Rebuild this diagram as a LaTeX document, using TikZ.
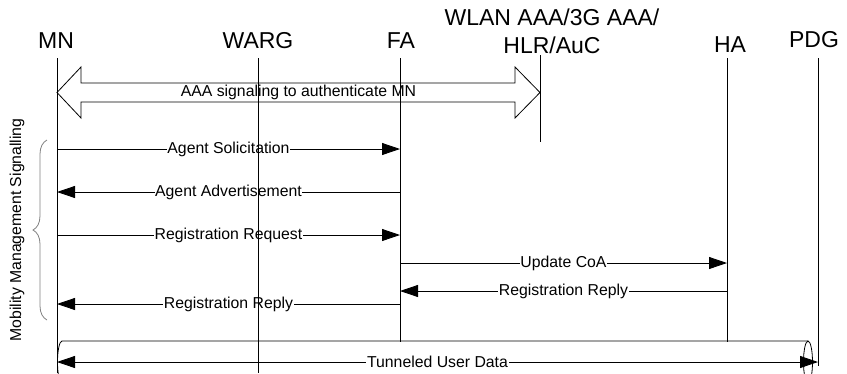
\documentclass[tikz,border=0pt]{standalone}
\usepackage{fontspec}
\setmainfont{Liberation Sans}
\usetikzlibrary{arrows.meta,calc,decorations.pathreplacing}
\begin{document}
\begin{tikzpicture}[x=1pt,y=-1pt,
    head/.style={font=\fontsize{23}{28}\selectfont, inner sep=0pt, anchor=base},
    life/.style={line width=0.8pt},
    msg/.style={line width=0.8pt, -{Triangle[length=18pt,width=12pt]}},
    lbl/.style={font=\fontsize{15.8}{19}\selectfont, fill=white, inner sep=0.6pt}]
    \useasboundingbox (0,0) rectangle (847,373);

    % entities
    \node (mn) at (56,48) [head] {MN};
    \node (warg) at (258,48) [head] {WARG};
    \node (fa) at (401,48) [head] {FA};
    \node (aaa) at (552,53) [head, align=center] {WLAN AAA/3G AAA/\\HLR/AuC};
    \node (ha) at (730,52) [head] {HA};
    \node (pdg) at (814,47) [head] {PDG};

    \coordinate (mnT) at (57,58);    \coordinate (mnB) at (57,373);
    \coordinate (wargT) at (258,58); \coordinate (wargB) at (258,373);
    \coordinate (faT) at (400,58);   \coordinate (faB) at (400,342);
    \coordinate (aaaT) at (540,55);  \coordinate (aaaB) at (540,142);
    \coordinate (haT) at (727,58);   \coordinate (haB) at (727,342);
    \coordinate (pdgT) at (818,58);  \coordinate (pdgB) at (818,366);

    % message rows
    \coordinate (r0) at (0,92.5);
    \coordinate (r1) at (0,149);
    \coordinate (r2) at (0,192);
    \coordinate (r3) at (0,235);
    \coordinate (r4) at (0,263);
    \coordinate (r5) at (0,291);
    \coordinate (r6) at (0,304);
    \coordinate (r7) at (0,362);

    % AAA block arrow
    \coordinate (aL) at (mnT |- r0);
    \coordinate (aR) at (aaaT |- r0);
    \draw[line width=0.8pt, fill=white] (aL) -- ($(aL)+(24,-25.5)$) -- ($(aL)+(24,-9.5)$)
        -- ($(aR)+(-25,-9.5)$) -- ($(aR)+(-25,-25.5)$) -- (aR) -- ($(aR)+(-25,25.5)$)
        -- ($(aR)+(-25,9.5)$) -- ($(aL)+(24,9.5)$) -- ($(aL)+(24,25.5)$) -- cycle;
    \node (aaalbl) at ($(aL)!0.5!(aR)$) [lbl, fill=none] {AAA signaling to authenticate MN};

    \draw[msg] (mnT |- r1) -- node[lbl] {Agent Solicitation} (faT |- r1);
    \draw[msg] (faT |- r2) -- node[lbl] {Agent Advertisement} (mnT |- r2);
    \draw[msg] (mnT |- r3) -- node[lbl] {Registration Request} (faT |- r3);
    \draw[msg] (faT |- r4) -- node[lbl] {Update CoA} (haT |- r4);
    \draw[msg] (haT |- r5) -- node[lbl] {Registration Reply} (faT |- r5);
    \draw[msg] (faT |- r6) -- node[lbl] {Registration Reply} (mnT |- r6);

    % tunnel
    \coordinate (tL) at (mnT |- r7);
    \coordinate (tR) at (pdgT |- r7);
    \draw[line width=0.8pt, fill=white] ($(tR)+(-10,-21)$) -- ($(tL)+(5,-21)$)
        arc[start angle=90, end angle=270, x radius=4.5pt, y radius=21pt]
        -- ($(tR)+(-10,21)$);
    \draw[line width=0.8pt] ($(tR)+(-10,0)$) ellipse[x radius=4.5pt, y radius=21pt];
    \draw[line width=0.8pt, {Triangle[length=18pt,width=12pt]}-{Triangle[length=18pt,width=12pt]}]
        (tL) -- node[lbl] {Tunneled User Data} (tR);

    % lifelines
    \draw[life] (mnT) -- (mnB);
    \draw[life] (wargT) -- (wargB);
    \draw[life] (faT) -- (faB);
    \draw[life] (aaaT) -- (aaaB);
    \draw[life] (haT) -- (haB);
    \draw[life] (pdgT) -- (pdgB);

    % signalling group
    \draw[gray, line width=0.8pt, decorate, decoration={brace, amplitude=14pt}] (47,320) -- (47,140);
    \node (mms) at (17,230) [rotate=90, font=\fontsize{15.8}{19}\selectfont] {Mobility Management Signalling};
\end{tikzpicture}
\end{document}
